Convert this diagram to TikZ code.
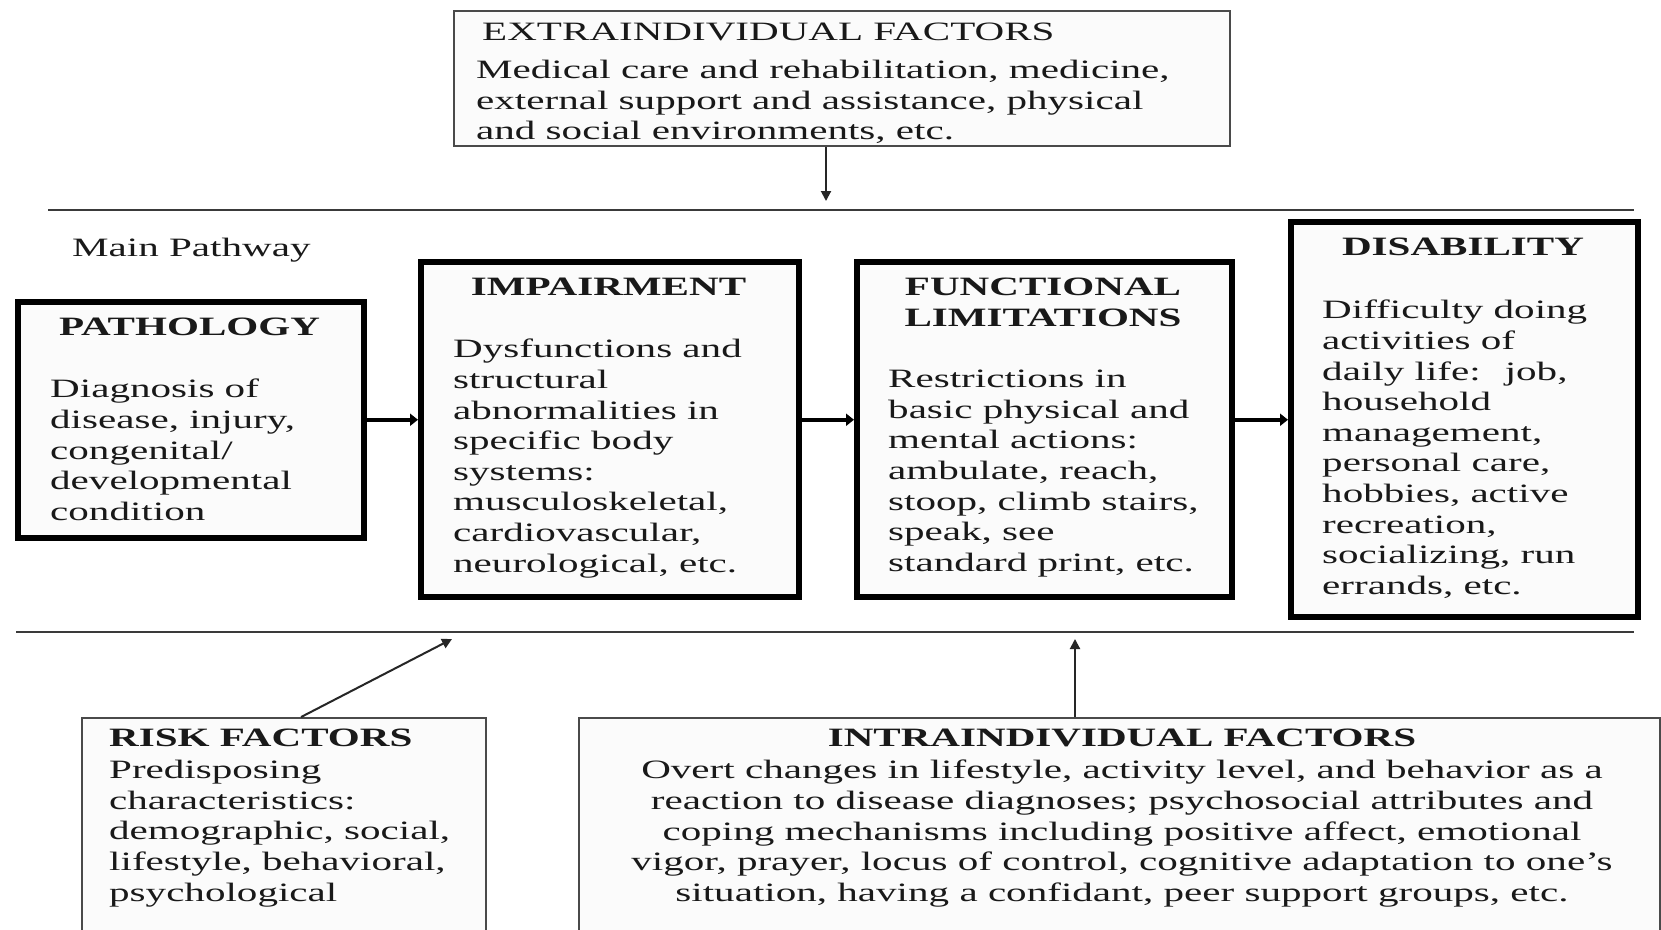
\documentclass[tikz,border=0pt]{standalone}
\usepackage{fontspec}
\setmainfont[FakeStretch=1.55]{Liberation Serif}
\usetikzlibrary{arrows.meta}
\definecolor{boxfill}{HTML}{FBFBFB}
\definecolor{edgegray}{HTML}{4A4A4A}
\definecolor{rulegray}{HTML}{3A3A3A}
\tikzset{
  thickbox/.style={draw=black, line width=5.5pt, fill=boxfill, inner sep=0pt, anchor=north west},
  thinbox/.style={draw=edgegray, line width=2.2pt, fill=boxfill, inner sep=0pt, anchor=north west},
  txt/.style={inner sep=0pt, anchor=north west, align=left, font=\fontsize{26.5}{30.6}\selectfont, text=black!90},
  ctxt/.style={txt, anchor=north, align=center},
  hd/.style={font=\fontsize{26.5}{30.6}\selectfont\bfseries},
  rule/.style={draw=rulegray, line width=2pt},
  thinarrow/.style={draw=black!85, line width=2pt, -{Triangle[length=10pt,width=10pt]}},
  mainarrow/.style={draw=black, line width=4pt, -{Triangle[length=8pt,width=12pt]}},
}
\begin{document}
\begin{tikzpicture}[x=1pt,y=-1pt]
\clip (0,0) rectangle (1661,929);
\fill[white] (0,0) rectangle (1661,929);

% boxes
\node[thinbox, minimum width=776pt, minimum height=135pt] (extra) at (453,10) {};
\node[thickbox, minimum width=346pt, minimum height=236pt] (path) at (15,299) {};
\node[thickbox, minimum width=378pt, minimum height=335pt] (imp) at (418,259) {};
\node[thickbox, minimum width=375pt, minimum height=335pt] (func) at (854,259) {};
\node[thickbox, minimum width=347pt, minimum height=395pt] (dis) at (1288,219) {};
\node[thinbox, minimum width=404pt, minimum height=300pt] (risk) at (81,717) {};
\node[thinbox, minimum width=1081pt, minimum height=300pt] (intra) at (578,717) {};

% rules
\coordinate (tl1) at (48,210);
\coordinate (tl2) at (1634,210);
\coordinate (bl1) at (16,632);
\coordinate (bl2) at (1634,632);
\draw[rule] (tl1) -- (tl2);
\draw[rule] (bl1) -- (bl2);

% texts
\node[txt] (extrahead) at (482,23) {EXTRAINDIVIDUAL FACTORS};
\node[txt] (extrabody) at (476,60) {Medical care and rehabilitation, medicine,\\external support and assistance, physical\\and social environments, etc.};
\node[txt] (mainpath) at (72,238) {Main Pathway};

\node[ctxt, hd] (pathhead) at (189.5,318) {PATHOLOGY};
\node[txt] (pathbody) at (50,379) {Diagnosis of\\disease, injury,\\congenital/\\developmental\\condition};

\node[ctxt, hd] (imphead) at (608.5,278) {IMPAIRMENT};
\node[txt] (impbody) at (453,339) {Dysfunctions and\\structural\\abnormalities in\\specific body\\systems:\\musculoskeletal,\\cardiovascular,\\neurological, etc.};

\node[ctxt, hd] (funchead) at (1043,278) {FUNCTIONAL\\LIMITATIONS};
\node[txt] (funcbody) at (888,370) {Restrictions in\\basic physical and\\mental actions:\\ambulate, reach,\\stoop, climb stairs,\\speak, see\\standard print, etc.};

\node[ctxt, hd] (dishead) at (1463,238) {DISABILITY};
\node[txt] (disbody) at (1322,300) {Difficulty doing\\activities of\\daily life:~ job,\\household\\management,\\personal care,\\hobbies, active\\recreation,\\socializing, run\\errands, etc.};

\node[txt, hd] (riskhead) at (109,729) {RISK FACTORS};
\node[txt] (riskbody) at (109,760) {Predisposing\\characteristics:\\demographic, social,\\lifestyle, behavioral,\\psychological};

\node[ctxt, hd] (intrahead) at (1122,729) {INTRAINDIVIDUAL FACTORS};
\node[ctxt] (intrabody) at (1122,760) {Overt changes in lifestyle, activity level, and behavior as a\\reaction to disease diagnoses; psychosocial attributes and\\coping mechanisms including positive affect, emotional\\vigor, prayer, locus of control, cognitive adaptation to one’s\\situation, having a confidant, peer support groups, etc.};

% connectors
\coordinate (extratip) at (826,201);
\draw[thinarrow] (extra.south -| extratip) -- (extratip);
\draw[mainarrow] (path.east) -- (path.east -| imp.west);
\draw[mainarrow] (imp.east |- path.east) -- (func.west |- path.east);
\draw[mainarrow] (func.east |- path.east) -- (dis.west |- path.east);
\coordinate (risktip) at (452,639);
\draw[thinarrow] ([xshift=17pt]risk.north) -- (risktip);
\coordinate (intratip) at (1075,639);
\draw[thinarrow] (intra.north -| intratip) -- (intratip);
\end{tikzpicture}
\end{document}
